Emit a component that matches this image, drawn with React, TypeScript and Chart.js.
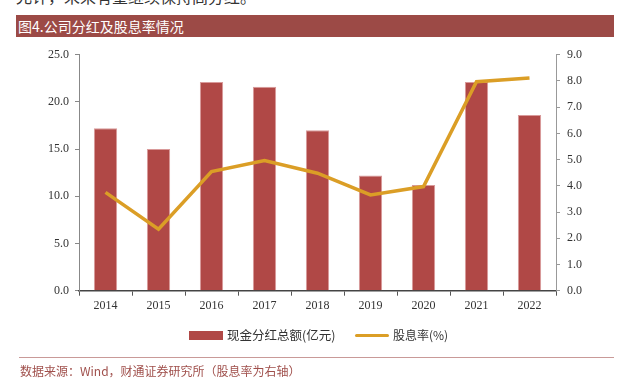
import React, { useEffect, useRef } from "react";
import { Chart, registerables } from "chart.js";

Chart.register(...registerables);

const years = ["2014", "2015", "2016", "2017", "2018", "2019", "2020", "2021", "2022"];
const dividends = [17.2, 15.0, 22.1, 21.6, 17.0, 12.2, 11.2, 22.1, 18.6];
const yieldRate = [3.75, 2.35, 4.54, 4.96, 4.48, 3.65, 3.97, 7.97, 8.11];
const leftTicks = [0, 5, 10, 15, 20, 25];
const rightTicks = [0, 1, 2, 3, 4, 5, 6, 7, 8, 9];

const BAR = "#B04846";
const LINE = "#DB9E26";
const SERIF = "'Liberation Serif', 'Times New Roman', serif";
const CJK = "'Noto Sans CJK SC', sans-serif";

export default function App() {
  const ref = useRef<HTMLCanvasElement | null>(null);

  useEffect(() => {
    document.body.style.margin = "0";
    const ctx = ref.current!;
    const chart = new Chart(ctx, {
      type: "bar",
      data: {
        labels: years,
        datasets: [
          {
            type: "line",
            label: "股息率(%)",
            data: yieldRate,
            yAxisID: "y1",
            borderColor: LINE,
            backgroundColor: LINE,
            borderWidth: 3.5,
            pointRadius: 0,
            tension: 0,
            order: 0,
          } as any,
          {
            type: "bar",
            label: "现金分红总额(亿元)",
            data: dividends,
            yAxisID: "y",
            backgroundColor: BAR,
            borderColor: "#D99A9A",
            borderWidth: 1,
            barPercentage: 0.44,
            categoryPercentage: 1,
            order: 1,
          },
        ],
      },
      options: {
        responsive: false,
        animation: false,
        layout: { padding: { left: 0, right: 0, top: 54.7, bottom: 77.3 } },
        plugins: { legend: { display: false }, tooltip: { enabled: false } },
        scales: {
          x: {
            offset: true,
            grid: {
              drawOnChartArea: false,
              offset: true,
              tickLength: 5,
              color: "#555",
            },
            border: { color: "#444", width: 1.5 },
            ticks: { color: "#333", font: { family: SERIF, size: 12 }, padding: 3 },
            afterFit: (s: any) => {
              s.height = 20;
            },
          },
          y: {
            position: "left",
            min: 0,
            max: 25,
            afterBuildTicks: (s: any) => {
              s.ticks = leftTicks.map((v) => ({ value: v }));
            },
            ticks: {
              color: "#333",
              font: { family: SERIF, size: 12 },
              padding: 6,
              callback: (v: any) => Number(v).toFixed(1),
            },
            grid: { drawOnChartArea: false, tickLength: 4, color: "#888" },
            border: { color: "#888" },
            afterFit: (s: any) => {
              s.width = 79;
            },
          },
          y1: {
            position: "right",
            min: 0,
            max: 9,
            afterBuildTicks: (s: any) => {
              s.ticks = rightTicks.map((v) => ({ value: v }));
            },
            ticks: {
              color: "#333",
              font: { family: SERIF, size: 12 },
              padding: 7,
              callback: (v: any) => Number(v).toFixed(1),
            },
            grid: { drawOnChartArea: false, tickLength: 4, color: "#999" },
            border: { color: "#999" },
            afterFit: (s: any) => {
              s.width = 65;
            },
          },
        },
      },
    });
    return () => chart.destroy();
  }, []);

  return (
    <div style={{ position: "absolute", left: 0, top: 0, width: 621, height: 388, overflow: "hidden", background: "#fff" }}>
      <div
        style={{
          position: "absolute",
          left: 16,
          top: -14,
          fontFamily: CJK,
          fontSize: 16,
          color: "#333",
          whiteSpace: "nowrap",
          lineHeight: "20px",
        }}
      >
        允许，未来有望继续保持高分红。
      </div>
      <div
        style={{
          position: "absolute",
          left: 16,
          top: 15,
          width: 598,
          height: 22,
          background: "#9C4A46",
          color: "#fff",
          fontFamily: CJK,
          fontSize: 14,
          lineHeight: "22px",
          paddingLeft: 2,
          boxSizing: "border-box",
          whiteSpace: "nowrap",
        }}
      >
        图4.公司分红及股息率情况
      </div>
      <canvas ref={ref} width={621} height={388} style={{ position: "absolute", left: 0, top: 0 }} />
      <div style={{ position: "absolute", left: 189, top: 331, width: 34, height: 9, background: BAR }} />
      <div
        style={{
          position: "absolute",
          left: 227,
          top: 326,
          fontFamily: CJK,
          fontSize: 12.5,
          color: "#333",
          lineHeight: "18px",
          whiteSpace: "nowrap",
        }}
      >
        现金分红总额(亿元)
      </div>
      <div style={{ position: "absolute", left: 355, top: 333.5, width: 34, height: 3.5, background: LINE, borderRadius: 2 }} />
      <div
        style={{
          position: "absolute",
          left: 393,
          top: 326,
          fontFamily: CJK,
          fontSize: 12,
          color: "#333",
          lineHeight: "18px",
          whiteSpace: "nowrap",
        }}
      >
        股息率(%)
      </div>
      <div style={{ position: "absolute", left: 19, top: 357, width: 595, height: 1, background: "#C99A98" }} />
      <div
        style={{
          position: "absolute",
          left: 20,
          top: 362,
          fontFamily: CJK,
          fontSize: 12,
          color: "#A0504C",
          lineHeight: "18px",
          whiteSpace: "nowrap",
        }}
      >
        数据来源：Wind，财通证券研究所（股息率为右轴）
      </div>
    </div>
  );
}
